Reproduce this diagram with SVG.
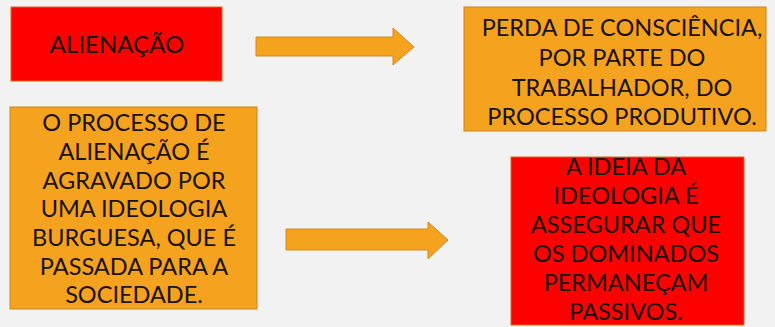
<svg xmlns="http://www.w3.org/2000/svg" width="775" height="327" viewBox="0 0 775 327">
  <style>
    .bg { fill: #F2F2F2; }
    .red { fill: #FF0000; stroke: #D2691E; stroke-width: 1; }
    .orange { fill: #F5A21F; stroke: #C8851E; stroke-width: 1; }
    .arrow { fill: #F5A21F; stroke: #D08A22; stroke-width: 1; }
    .t { font-family: "Lato", "Open Sans", sans-serif; font-size: 23.5px; fill: #1A1208; text-anchor: middle; }
  </style>
  <rect class="bg" x="0" y="0" width="775" height="327"/>
  <g id="connectors">
    <path class="arrow" d="M256,37 L393,37 L393,28 L414,47 L393,65 L393,56 L256,56 Z"/>
    <path class="arrow" d="M286,229 L428,229 L428,222 L448,240 L428,259 L428,250 L286,250 Z"/>
  </g>
  <g id="node-alienacao">
    <rect class="red" x="11" y="7" width="211" height="74"/>
    <text class="t" x="117" y="53" style="font-size:24px">ALIENAÇÃO</text>
  </g>
  <g id="node-perda">
    <rect class="orange" x="464" y="7" width="302" height="124"/>
    <text class="t" x="622" y="36">PERDA DE CONSCIÊNCIA,</text>
    <text class="t" x="622" y="66">POR PARTE DO</text>
    <text class="t" x="622" y="96">TRABALHADOR, DO</text>
    <text class="t" x="622" y="125">PROCESSO PRODUTIVO.</text>
  </g>
  <g id="node-processo">
    <rect class="orange" x="10" y="107" width="247" height="202"/>
    <text class="t" x="134" y="131">O PROCESSO DE</text>
    <text class="t" x="134" y="160">ALIENAÇÃO É</text>
    <text class="t" x="134" y="189">AGRAVADO POR</text>
    <text class="t" x="134" y="217">UMA IDEOLOGIA</text>
    <text class="t" x="134" y="246">BURGUESA, QUE É</text>
    <text class="t" x="134" y="275">PASSADA PARA A</text>
    <text class="t" x="134" y="303">SOCIEDADE.</text>
  </g>
  <g id="node-ideia">
    <rect class="red" x="511" y="157" width="233" height="168"/>
    <text class="t" x="626" y="175">A IDEIA DA</text>
    <text class="t" x="626" y="204">IDEOLOGIA É</text>
    <text class="t" x="626" y="233">ASSEGURAR QUE</text>
    <text class="t" x="626" y="262">OS DOMINADOS</text>
    <text class="t" x="626" y="291">PERMANEÇAM</text>
    <text class="t" x="626" y="320">PASSIVOS.</text>
  </g>
</svg>
